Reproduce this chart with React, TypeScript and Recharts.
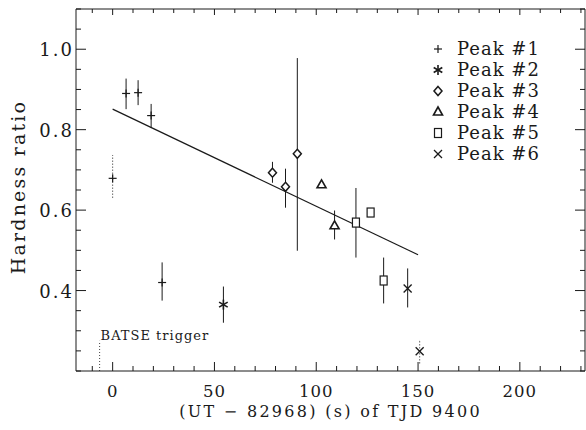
import React from "react";
import {
  ComposedChart,
  Scatter,
  Line,
  XAxis,
  YAxis,
  ErrorBar,
  ReferenceLine,
  Legend,
} from "recharts";

const FONT = "'DejaVu Serif', serif";
const INK = "#1a1a1a";

// time since 82968 s UT (TJD 9400), hardness ratio, error bar ends
const peak1X = [0, 6.6, 12.5, 18.9, 24.3];
const peak1Y = [0.679, 0.89, 0.892, 0.835, 0.42];
const peak1Lo = [0.631, 0.851, 0.861, 0.804, 0.375];
const peak1Hi = [0.737, 0.927, 0.923, 0.864, 0.47];
const peak1Dotted = [true, false, false, false, false];

const peak2X = [54.4];
const peak2Y = [0.365];
const peak2Lo = [0.32];
const peak2Hi = [0.41];
const peak2Dotted = [false];

const peak3X = [78.5, 84.9, 90.7];
const peak3Y = [0.693, 0.658, 0.74];
const peak3Lo = [0.668, 0.606, 0.499];
const peak3Hi = [0.72, 0.703, 0.978];
const peak3Dotted = [false, false, false];

const peak4X = [102.6, 109];
const peak4Y = [0.663, 0.561];
const peak4Lo = [0.656, 0.527];
const peak4Hi = [0.67, 0.599];
const peak4Dotted = [false, false];

const peak5X = [119.5, 126.7, 133.1];
const peak5Y = [0.569, 0.594, 0.425];
const peak5Lo = [0.482, 0.588, 0.368];
const peak5Hi = [0.655, 0.6, 0.482];
const peak5Dotted = [false, false, false];

const peak6X = [144.9, 150.8];
const peak6Y = [0.405, 0.249];
const peak6Lo = [0.358, 0.219];
const peak6Hi = [0.455, 0.276];
const peak6Dotted = [false, true];

// linear fit drawn over the first 150 s
const fitX = [0, 150];
const fitY = [0.851, 0.489];

// BATSE trigger marker
const triggerX = -6.4;
const triggerY = [0.2, 0.275];

const peakNames = ["Peak #1", "Peak #2", "Peak #3", "Peak #4", "Peak #5", "Peak #6"];
const peakShapes = ["plus", "star", "diamond", "triangle", "square", "cross"];

const xDomain = [-18, 232];
const yDomain = [0.2, 1.1];
const xTicks = [-10, 0, 10, 20, 30, 40, 50, 60, 70, 80, 90, 100, 110, 120, 130, 140, 150, 160, 170, 180, 190, 200, 210, 220, 230];
const xMajor = [0, 50, 100, 150, 200];
const yTicks = [0.2, 0.25, 0.3, 0.35, 0.4, 0.45, 0.5, 0.55, 0.6, 0.65, 0.7, 0.75, 0.8, 0.85, 0.9, 0.95, 1.0, 1.05, 1.1];
const yMajor = [0.4, 0.6, 0.8, 1.0];

const isMajor = (list: number[], v: number) => list.some((m) => Math.abs(m - v) < 1e-6);

type Pt = { x: number; y: number; err: [number, number] };

function buildPoints(xs: number[], ys: number[], lo: number[], hi: number[], dotted: boolean[], wantDotted: boolean): Pt[] {
  const out: Pt[] = [];
  xs.forEach((x, i) => {
    if (dotted[i] !== wantDotted) return;
    out.push({ x, y: ys[i], err: [ys[i] - lo[i], hi[i] - ys[i]] });
  });
  return out;
}

const peaks = [
  [peak1X, peak1Y, peak1Lo, peak1Hi, peak1Dotted],
  [peak2X, peak2Y, peak2Lo, peak2Hi, peak2Dotted],
  [peak3X, peak3Y, peak3Lo, peak3Hi, peak3Dotted],
  [peak4X, peak4Y, peak4Lo, peak4Hi, peak4Dotted],
  [peak5X, peak5Y, peak5Lo, peak5Hi, peak5Dotted],
  [peak6X, peak6Y, peak6Lo, peak6Hi, peak6Dotted],
] as any[];

const fitData = fitX.map((x, i) => ({ x, y: fitY[i] }));

function Marker({ kind, cx, cy }: { kind: string; cx: number; cy: number }) {
  const s = { stroke: INK, strokeWidth: 1.2, fill: "#fff" };
  switch (kind) {
    case "plus":
      return (
        <g {...s}>
          <line x1={cx - 4} x2={cx + 4} y1={cy} y2={cy} />
          <line x1={cx} x2={cx} y1={cy - 4} y2={cy + 4} />
        </g>
      );
    case "star":
      return (
        <g stroke={INK} strokeWidth={1.6}>
          <line x1={cx} x2={cx} y1={cy - 5} y2={cy + 5} />
          <line x1={cx - 4.3} x2={cx + 4.3} y1={cy - 2.5} y2={cy + 2.5} />
          <line x1={cx - 4.3} x2={cx + 4.3} y1={cy + 2.5} y2={cy - 2.5} />
        </g>
      );
    case "diamond":
      return <polygon {...s} strokeWidth={1.5} points={`${cx},${cy - 4.5} ${cx + 4},${cy} ${cx},${cy + 4.5} ${cx - 4},${cy}`} />;
    case "triangle":
      return <polygon {...s} strokeWidth={1.6} points={`${cx},${cy - 5} ${cx + 4.5},${cy + 3} ${cx - 4.5},${cy + 3}`} />;
    case "square":
      return <rect {...s} x={cx - 3.5} y={cy - 4.5} width={7} height={9} />;
    default:
      return (
        <g stroke={INK} strokeWidth={1.3}>
          <line x1={cx - 4} x2={cx + 4} y1={cy - 4} y2={cy + 4} />
          <line x1={cx - 4} x2={cx + 4} y1={cy + 4} y2={cy - 4} />
        </g>
      );
  }
}

const XTickBottom = (props: any) => {
  const x = Number(props.x);
  const y = Number(props.y);
  const major = isMajor(xMajor, props.payload.value);
  return (
    <g>
      <path d={`M${x},${y}V${y - (major ? 9 : 5)}`} stroke={INK} strokeWidth={1} fill="none" />
      {major && (
        <text x={x} y={y + 26} textAnchor="middle" fontFamily={FONT} fontSize={16.5} letterSpacing={1} fill={INK} stroke="none">
          {props.payload.value}
        </text>
      )}
    </g>
  );
};

const XTickTop = (props: any) => {
  const x = Number(props.x);
  const y = Number(props.y);
  const major = isMajor(xMajor, props.payload.value);
  return <path d={`M${x},${y}V${y + (major ? 6 : 4)}`} stroke={INK} strokeWidth={1} fill="none" />;
};

const YTickLeft = (props: any) => {
  const x = Number(props.x);
  const y = Number(props.y);
  const major = isMajor(yMajor, props.payload.value);
  return (
    <g>
      <path d={`M${x},${y}H${x + (major ? 10 : 5)}`} stroke={INK} strokeWidth={1} fill="none" />
      {major && (
        <text x={x - 2} y={y + 7} textAnchor="end" fontFamily={FONT} fontSize={18} letterSpacing={2} fill={INK} stroke="none">
          {props.payload.value.toFixed(1)}
        </text>
      )}
    </g>
  );
};

const YTickRight = (props: any) => {
  const x = Number(props.x);
  const y = Number(props.y);
  const major = isMajor(yMajor, props.payload.value);
  return <path d={`M${x},${y}H${x - (major ? 10 : 5)}`} stroke={INK} strokeWidth={1} fill="none" />;
};

const YTitle = (props: any) => {
  const vb = props.viewBox || { x: 0, y: 9, width: 76, height: 362 };
  const tx = vb.x + 25;
  const ty = vb.y + vb.height / 2 - 3;
  return (
    <text x={tx} y={ty} transform={`rotate(-90, ${tx}, ${ty})`} textAnchor="middle" fontFamily={FONT} fontSize={19} letterSpacing={2.2} fill={INK}>
      Hardness ratio
    </text>
  );
};

const TriggerLabel = (props: any) => {
  const vb = props.viewBox;
  return (
    <text x={vb.x + 1} y={vb.y - 1} fontFamily={FONT} fontSize={13} letterSpacing={1} fill={INK}>
      BATSE trigger
    </text>
  );
};

const LegendBox = () => (
  <div style={{ fontFamily: FONT, fontSize: 18, letterSpacing: 1, color: INK }}>
    {peakNames.map((name, i) => (
      <div key={name} style={{ display: "flex", alignItems: "center", height: 21, whiteSpace: "nowrap" }}>
        <svg width={20} height={14} style={{ marginRight: 9 }}>
          <Marker kind={peakShapes[i]} cx={10} cy={7} />
        </svg>
        <span>{name}</span>
      </div>
    ))}
  </div>
);

export default function App() {
  return (
    <div style={{ position: "absolute", left: 0, top: 0, width: 586, height: 430, background: "#fff" }}>
      <ComposedChart width={586} height={430} margin={{ top: 8, right: 0, bottom: 0, left: 0 }}>
        <XAxis
          xAxisId="b"
          type="number"
          dataKey="x"
          domain={xDomain}
          ticks={xTicks}
          interval={0}
          allowDataOverflow
          height={59}
          tickSize={0}
          tickMargin={0}
          tickLine={false}
          axisLine={{ stroke: INK, strokeWidth: 1 }}
          tick={<XTickBottom />}
          label={{
            value: "(UT − 82968) (s) of TJD 9400",
            position: "insideBottom",
            offset: 13,
            fontFamily: FONT,
            fontSize: 16,
            letterSpacing: 2.3,
            fill: INK,
          }}
        />
        <XAxis
          xAxisId="t"
          orientation="top"
          type="number"
          dataKey="x"
          domain={xDomain}
          ticks={xTicks}
          interval={0}
          allowDataOverflow
          height={1}
          tickSize={0}
          tickMargin={0}
          tickLine={false}
          axisLine={{ stroke: INK, strokeWidth: 1 }}
          tick={<XTickTop />}
        />
        <YAxis
          yAxisId="l"
          type="number"
          dataKey="y"
          domain={yDomain}
          ticks={yTicks}
          interval={0}
          allowDataOverflow
          width={76}
          tickSize={0}
          tickMargin={0}
          tickLine={false}
          axisLine={{ stroke: INK, strokeWidth: 1 }}
          tick={<YTickLeft />}
          label={<YTitle />}
        />
        <YAxis
          yAxisId="r"
          orientation="right"
          type="number"
          dataKey="y"
          domain={yDomain}
          ticks={yTicks}
          interval={0}
          allowDataOverflow
          width={1}
          tickSize={0}
          tickMargin={0}
          tickLine={false}
          axisLine={{ stroke: INK, strokeWidth: 1 }}
          tick={<YTickRight />}
        />
        <ReferenceLine
          xAxisId="b"
          yAxisId="l"
          segment={[
            { x: triggerX, y: triggerY[0] },
            { x: triggerX, y: triggerY[1] },
          ]}
          stroke="#444"
          strokeDasharray="1 2"
          label={<TriggerLabel />}
        />
        <Line
          xAxisId="b"
          yAxisId="l"
          data={fitData}
          dataKey="y"
          type="linear"
          stroke={INK}
          strokeWidth={1.2}
          dot={false}
          activeDot={false}
          legendType="none"
          isAnimationActive={false}
        />
        {peaks.map((p, i) =>
          [false, true].map((dotted) => {
            const pts = buildPoints(p[0], p[1], p[2], p[3], p[4], dotted);
            if (!pts.length) return null;
            return (
              <Scatter
                key={`${i}-${dotted}`}
                name={peakNames[i]}
                xAxisId="b"
                yAxisId="l"
                data={pts}
                dataKey="y"
                isAnimationActive={false}
                shape={(sp: any) => <Marker kind={peakShapes[i]} cx={sp.cx} cy={sp.cy} />}
              >
                <ErrorBar
                  dataKey="err"
                  direction="y"
                  width={0}
                  stroke={INK}
                  strokeWidth={1}
                  strokeDasharray={dotted ? "1 2" : undefined}
                  isAnimationActive={false}
                />
              </Scatter>
            );
          })
        )}
        <Legend
          layout="horizontal"
          align="center"
          verticalAlign="middle"
          content={<LegendBox />}
          wrapperStyle={{ position: "absolute", left: 428, top: 38, width: 150, margin: 0 }}
        />
      </ComposedChart>
    </div>
  );
}
